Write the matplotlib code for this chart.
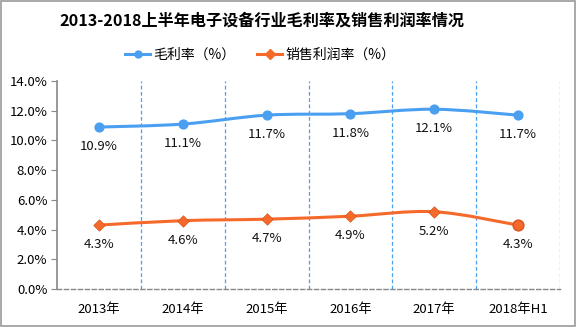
import matplotlib
matplotlib.use("Agg")
import matplotlib.pyplot as plt
import numpy as np
from matplotlib.path import Path
from matplotlib.patches import PathPatch
from matplotlib.lines import Line2D

plt.rcParams['font.family'] = ['Noto Sans CJK SC', 'DejaVu Sans']

categories = ["2013年", "2014年", "2015年", "2016年", "2017年", "2018年H1"]
gross_margin = [10.9, 11.1, 11.7, 11.8, 12.1, 11.7]
sales_margin = [4.3, 4.6, 4.7, 4.9, 5.2, 4.3]
series_names = ["毛利率（%）", "销售利润率（%）"]
yticks = [0, 2, 4, 6, 8, 10, 12, 14]
title = "2013-2018上半年电子设备行业毛利率及销售利润率情况"

blue = "#4a9ff0"
orange = "#f5692a"

fig = plt.figure(figsize=(5.76, 3.27), dpi=100)
ax = fig.add_axes([57/576, 1-289/327, (560-57)/576, (289-81)/327])

x = np.arange(len(categories))

def smooth_path(xs, ys, t=0.5):
    pts = np.column_stack([xs, ys]).astype(float)
    verts = [pts[0]]
    codes = [Path.MOVETO]
    n = len(pts)
    for i in range(n - 1):
        p0 = pts[i - 1] if i > 0 else pts[i]
        p1 = pts[i]
        p2 = pts[i + 1]
        p3 = pts[i + 2] if i + 2 < n else pts[i + 1]
        c1 = p1 + (p2 - p0) * t / 3
        c2 = p2 - (p3 - p1) * t / 3
        verts += [c1, c2, p2]
        codes += [Path.CURVE4] * 3
    return Path(verts, codes)

for ys, col in [(gross_margin, blue), (sales_margin, orange)]:
    ax.add_patch(PathPatch(smooth_path(x, ys), facecolor='none', edgecolor=col, lw=2.2, zorder=3))

ax.scatter(x, gross_margin, s=40, color=blue, zorder=4, marker='o')
ax.scatter(x[:-1], sales_margin[:-1], s=34, color=orange, zorder=4, marker='D', edgecolor='#d9541c', linewidths=0.5)
ax.scatter(x[-1:], sales_margin[-1:], s=60, color=orange, zorder=4, marker='o', edgecolor='#d9541c')

for xi, v in zip(x, gross_margin):
    ax.annotate(f"{v:.1f}%", (xi, v), xytext=(0, -14), textcoords='offset points',
                ha='center', va='center', fontsize=9.5, color='#111111')
for xi, v in zip(x, sales_margin):
    ax.annotate(f"{v:.1f}%", (xi, v), xytext=(0, -14), textcoords='offset points',
                ha='center', va='center', fontsize=9.5, color='#111111')

ax.set_xlim(-0.5, len(categories) - 0.5)
ax.set_ylim(0, 14)
ax.set_yticks(yticks)
ax.set_yticklabels([f"{v:.1f}%" for v in yticks], fontsize=9.5)
ax.set_xticks(x)
ax.set_xticklabels(categories, fontsize=9.5)
ax.tick_params(axis='x', length=0, pad=10)
ax.tick_params(axis='y', length=4, color='#888888', direction='out', pad=3)

for b in np.arange(0.5, len(categories), 1.0):
    ax.axvline(b, color=blue, ls=(0, (3, 2)), lw=0.9, zorder=1)

for s in ['top', 'right']:
    ax.spines[s].set_visible(False)
ax.spines['left'].set_color('#888888')
ax.spines['left'].set_linewidth(1.2)
ax.spines['bottom'].set_color('#888888')
ax.spines['bottom'].set_linestyle((0, (3, 2)))
ax.spines['bottom'].set_linewidth(1.0)

fig.text(262/576, 1 - 20/327, title, ha='center', va='center', fontsize=11.6, fontweight='bold')

handles = [Line2D([0], [0], color=blue, lw=2.2, marker='o', markersize=5),
           Line2D([0], [0], color=orange, lw=2.2, marker='D', markersize=5)]
fig.legend(handles, series_names, loc='center', bbox_to_anchor=(260/576, 1 - 55/327), ncol=2,
           frameon=False, fontsize=10, handlelength=1.8, columnspacing=1.6, handletextpad=0.2)

fig.patches.append(plt.Rectangle((0.001, 0.002), 0.997, 0.995, transform=fig.transFigure,
                                 fill=False, edgecolor='#999999', lw=1.2))

fig.savefig("out.png", dpi=100)
